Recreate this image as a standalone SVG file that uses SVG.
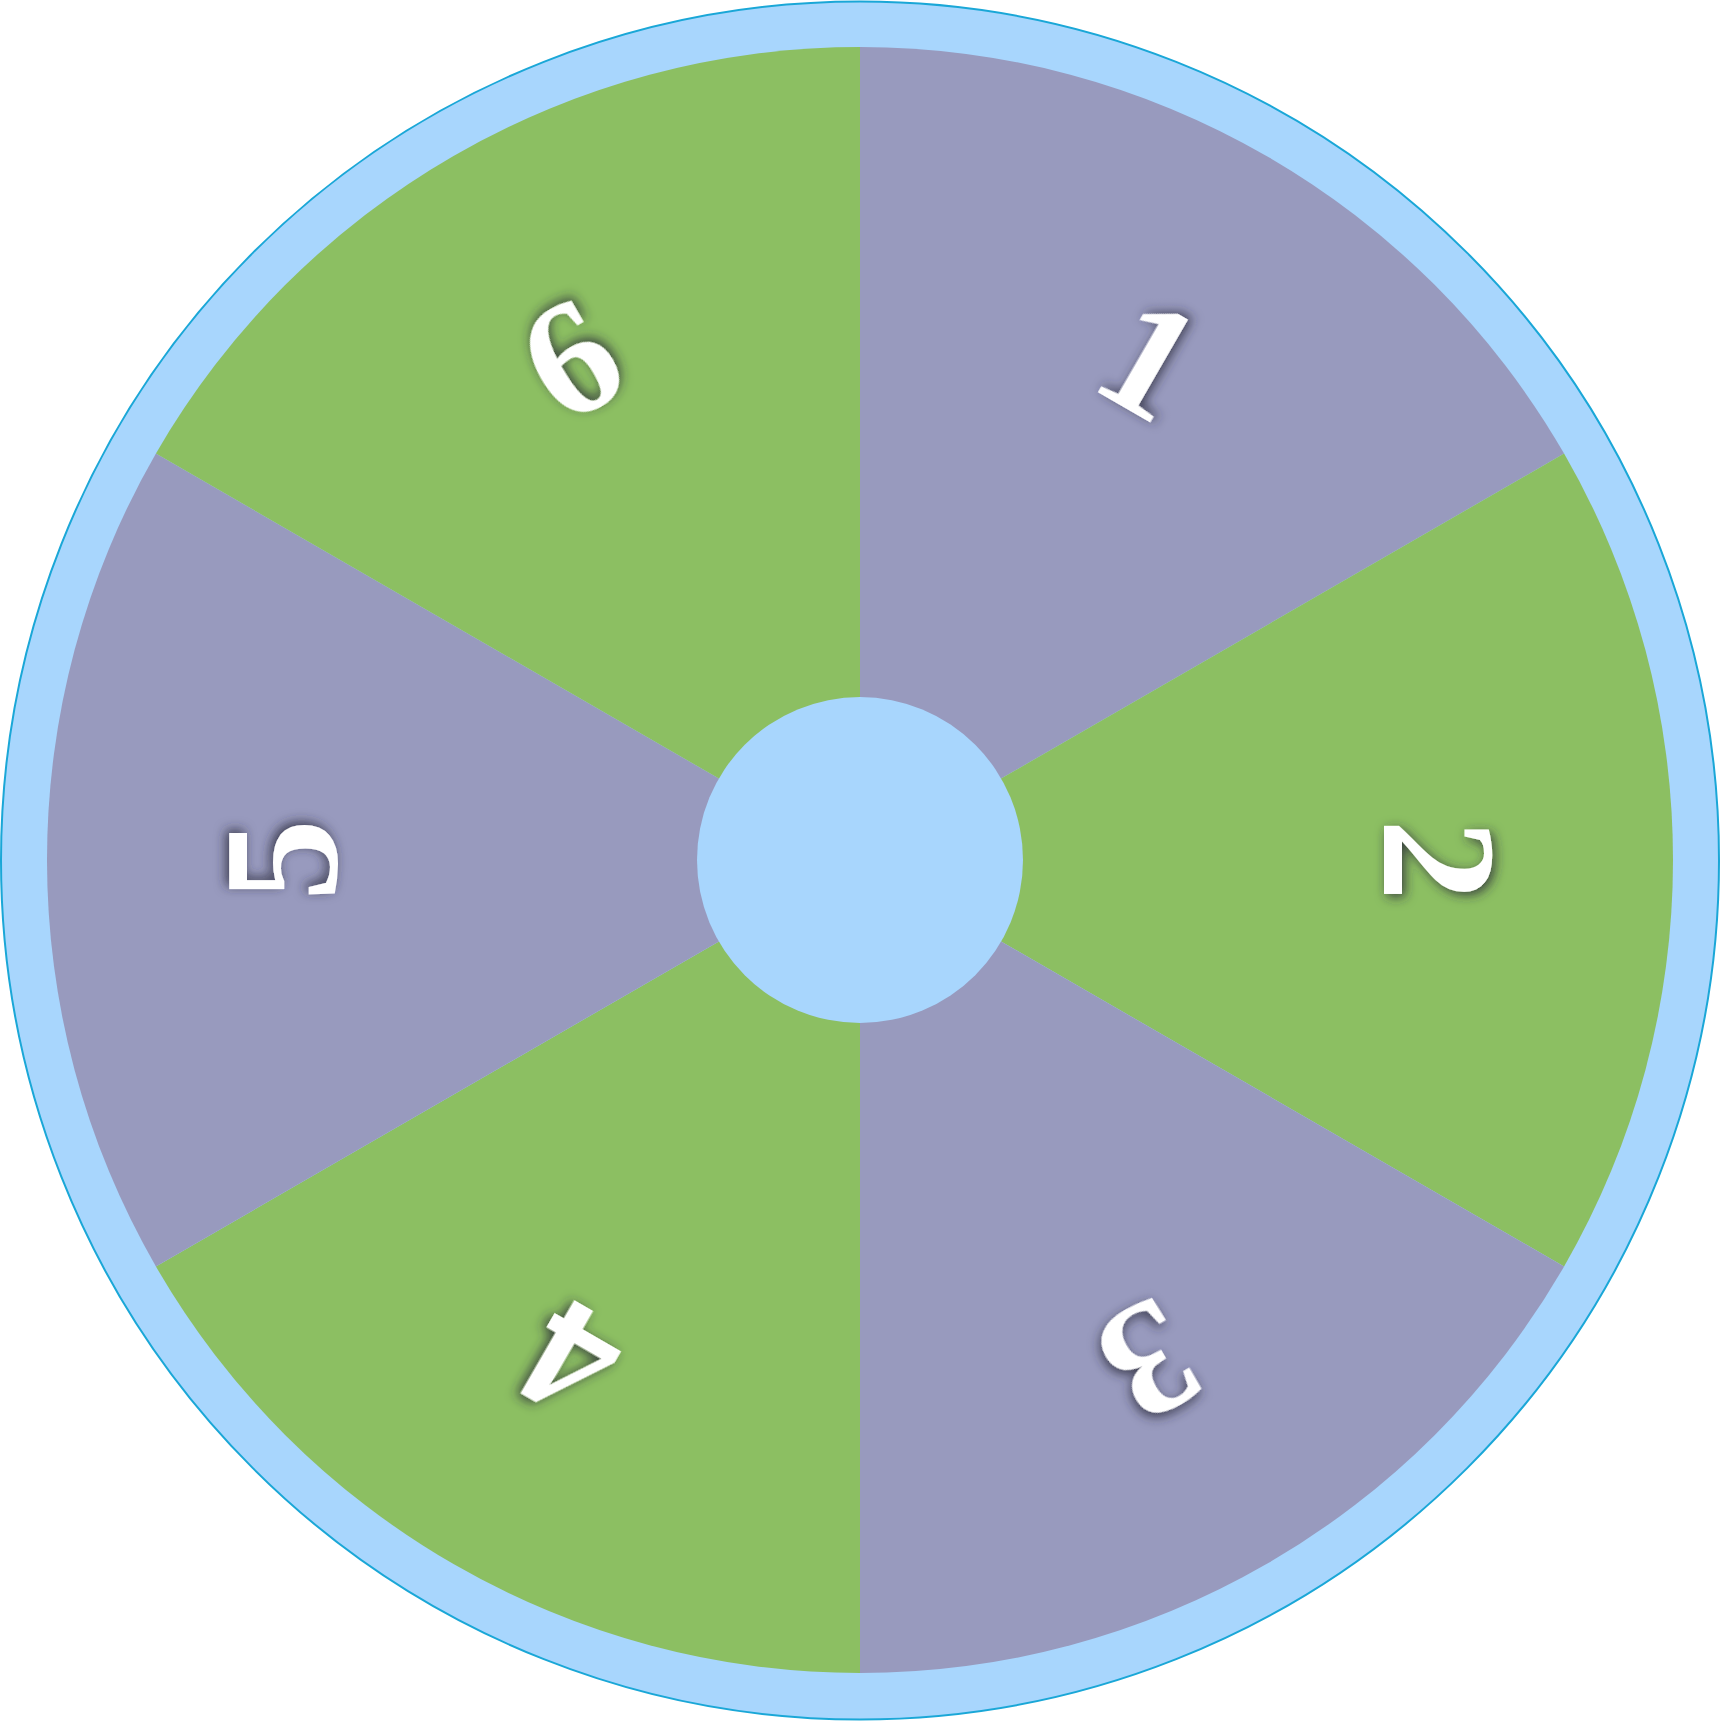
<svg xmlns="http://www.w3.org/2000/svg" width="1720" height="1721" viewBox="0 0 1720 1721">
  <defs>
    <filter id="shadow" x="-50%" y="-50%" width="200%" height="200%">
      <feDropShadow dx="3" dy="-3" stdDeviation="6" flood-color="#2a2a3a" flood-opacity="0.85"/>
    </filter>
  </defs>
  <style>
    .purple { fill: #989ABE; }
    .green { fill: #8CBF62; }
    .num { font-family: "Liberation Serif", "DejaVu Serif", serif; font-weight: bold; font-size: 164px; fill: #FFFFFF; text-anchor: middle; filter: url(#shadow); }
  </style>
  <g id="rim">
    <circle cx="860" cy="860.5" r="859" fill="#A8D6FD" stroke="#1AA7D7" stroke-width="2"/>
  </g>
  <g id="segments">
    <g id="seg1"><path class="purple" d="M860,860 L860,47 A813,813 0 0 1 1564.08,453.5 Z"/></g>
    <g id="seg2"><path class="green" d="M860,860 L1564.08,453.5 A813,813 0 0 1 1564.08,1266.5 Z"/></g>
    <g id="seg3"><path class="purple" d="M860,860 L1564.08,1266.5 A813,813 0 0 1 860,1673 Z"/></g>
    <g id="seg4"><path class="green" d="M860,860 L860,1673 A813,813 0 0 1 155.92,1266.5 Z"/></g>
    <g id="seg5"><path class="purple" d="M860,860 L155.92,1266.5 A813,813 0 0 1 155.92,453.5 Z"/></g>
    <g id="seg6"><path class="green" d="M860,860 L155.92,453.5 A813,813 0 0 1 860,47 Z"/></g>
  </g>
  <g id="hub">
    <circle cx="860" cy="860" r="163" fill="#A8D6FD"/>
  </g>
  <g id="labels">
    <g id="label1" transform="translate(860,860) rotate(30)"><text class="num" x="0" y="-524">1</text></g>
    <g id="label2" transform="translate(860,860) rotate(90)"><text class="num" x="0" y="-524">2</text></g>
    <g id="label3" transform="translate(860,860) rotate(150)"><text class="num" x="0" y="-524">3</text></g>
    <g id="label4" transform="translate(860,860) rotate(210)"><text class="num" x="0" y="-524">4</text></g>
    <g id="label5" transform="translate(860,860) rotate(270)"><text class="num" x="0" y="-524">5</text></g>
    <g id="label6" transform="translate(860,860) rotate(330)"><text class="num" x="0" y="-524">6</text></g>
  </g>
</svg>
